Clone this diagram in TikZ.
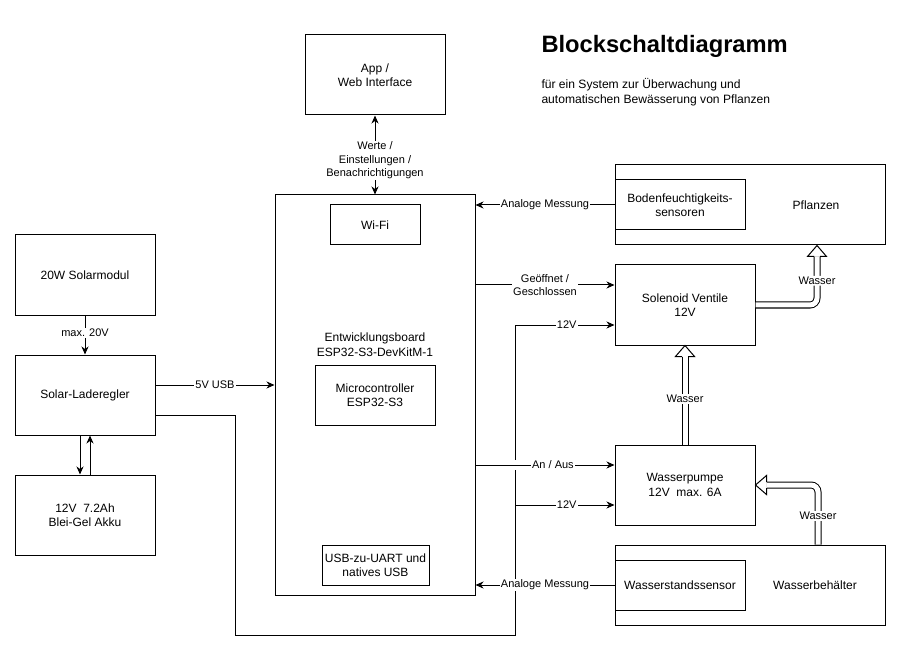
\documentclass[tikz,border=0pt]{standalone}
\usepackage{fontspec}
\setmainfont{Liberation Sans}
\usetikzlibrary{arrows.meta,calc}
\begin{document}
\begin{tikzpicture}[x=1pt,y=-1pt,line width=1pt,
  box/.style={draw,line width=1pt,inner sep=0pt,align=center,font=\fontsize{12}{14.5}\selectfont},
  txt/.style={inner sep=0pt,align=center,font=\fontsize{12}{14.5}\selectfont},
  conn/.style={draw,line width=1pt,-{Stealth[length=8pt,width=7pt,inset=2.5pt]}},
  biconn/.style={draw,line width=1pt,{Stealth[length=8pt,width=7pt,inset=2.5pt]}-{Stealth[length=8pt,width=7pt,inset=2.5pt]}},
  plain/.style={draw,line width=1pt},
  lbl/.style={fill=white,inner sep=1pt,align=center,font=\fontsize{11}{13.5}\selectfont},
  hollow/.style={line width=1pt,double=white,double distance=5pt,rounded corners=7pt},
  hhead/.style={line width=1pt,fill=white,line join=miter}]
\path[fill=white] (0,0) rectangle (902,652);
\useasboundingbox (0,0) rectangle (902,652);

% title
\node[anchor=west,inner sep=0pt,font=\bfseries\fontsize{23.7}{28}\selectfont] (title) at (541,46) {Blockschaltdiagramm};
\node[anchor=west,inner sep=0pt,align=left,font=\fontsize{12.1}{15}\selectfont] (sub) at (541,92.5) {für ein System zur Überwachung und\\automatischen Bewässerung von Pflanzen};

% nodes
\node[box,minimum width=140pt,minimum height=80pt] (app) at (375,75) {App /\\Web Interface};
\node[box,minimum width=200pt,minimum height=400pt] (esp) at (375,395) {};
\node[txt] (esplbl) at (375,344.5) {Entwicklungsboard\\ESP32-S3-DevKitM-1};
\node[box,minimum width=90pt,minimum height=40pt] (wifi) at (375,225) {Wi-Fi};
\node[box,minimum width=120pt,minimum height=60pt] (mcu) at (375,395) {Microcontroller\\ESP32-S3};
\node[box,minimum width=107pt,minimum height=40pt] (usb) at (375.5,565) {USB-zu-UART und\\natives USB};

\node[box,minimum width=140pt,minimum height=80pt] (solar) at (85,275) {20W Solarmodul};
\node[box,minimum width=140pt,minimum height=80pt] (lade) at (85,395) {Solar-Laderegler};
\node[box,minimum width=140pt,minimum height=80pt] (akku) at (85,515) {12V\ \ 7.2Ah\\Blei-Gel Akku};

\node[box,minimum width=270pt,minimum height=80pt] (pfl) at (750,205) {};
\node[txt] (pfllbl) at (816,205) {Pflanzen};
\node[box,minimum width=130pt,minimum height=50pt] (boden) at (680,205) {Bodenfeuchtigkeits-\\sensoren};
\node[box,minimum width=140pt,minimum height=80pt] (sol) at (685,305) {Solenoid Ventile\\12V};
\node[box,minimum width=140pt,minimum height=80pt] (pump) at (685,485) {Wasserpumpe\\12V\ \ max. 6A};
\node[box,minimum width=270pt,minimum height=80pt] (beh) at (750,585) {};
\node[txt] (behlbl) at (815,585) {Wasserbehälter};
\node[box,minimum width=130pt,minimum height=50pt] (wst) at (680,585) {Wasserstandssensor};

% connectors
\draw[biconn] (esp.north) -- node[lbl,pos=0.43] {Werte /\\Einstellungen /\\Benachrichtigungen} (app.south);
\draw[conn] (solar.south) -- node[lbl,pos=0.45] {max. 20V} (lade.north);
\draw[conn] ($(lade.south)+(-5,0)$) -- ($(akku.north)+(-5,0)$);
\draw[conn] ($(akku.north)+(5,0)$) -- ($(lade.south)+(5,0)$);
\draw[conn] ($(lade.east)+(0,-10)$) -- node[lbl] {5V USB} ($(esp.west|-lade.east)+(0,-10)$);

\coordinate (busB) at (515,635);
\coordinate (branch) at (515,505);
\coordinate (jump) at (515,465);
\draw[conn] ($(lade.east)+(0,20)$) -- ++(80,0) |- (busB) |- node[lbl,pos=0.76] {12V} ($(sol.west)+(0,20)$);
\draw[conn] (branch) -- node[lbl,pos=0.52] {12V} ($(pump.west)+(0,20)$);
\fill[white] ($(jump)+(-1.5,-5)$) rectangle ($(jump)+(1.5,5)$);
\draw[conn] ($(esp.east|-pump.west)+(0,-20)$) -- node[lbl,pos=0.557] {An / Aus} ($(pump.west)+(0,-20)$);

\draw[conn] (boden.west) -- node[lbl] {Analoge Messung} (esp.east|-boden.west);
\draw[conn] ($(esp.east|-sol.west)+(0,-20)$) -- node[lbl] {Geöffnet /\\Geschlossen} ($(sol.west)+(0,-20)$);
\draw[conn] (wst.west) -- node[lbl] {Analoge Messung} (esp.east|-wst.west);

% water flows (hollow arrows)
\draw[hollow] (pump.north) -- ($(sol.south)+(0,11)$);
\draw[hhead] ($(sol.south)+(-3,11)$) -- ($(sol.south)+(-9.5,11)$) -- (sol.south) -- ($(sol.south)+(9.5,11)$) -- ($(sol.south)+(3,11)$);
\node[lbl] (w1) at ($(pump.north)!0.46!(sol.south)$) {Wasser};

\draw[hollow] ($(beh.north)+(68,0)$) |- node[lbl,pos=0.24] (w2) {Wasser} ($(pump.east)+(11,0)$);
\draw[hhead] ($(pump.east)+(11,-3)$) -- ($(pump.east)+(11,-9.5)$) -- (pump.east) -- ($(pump.east)+(11,9.5)$) -- ($(pump.east)+(11,3)$);

\draw[hollow] (sol.east) -| node[lbl,pos=0.75] (w3) {Wasser} ($(pfl.south)+(67,11)$);
\draw[hhead] ($(pfl.south)+(64,11)$) -- ($(pfl.south)+(57.5,11)$) -- ($(pfl.south)+(67,0)$) -- ($(pfl.south)+(76.5,11)$) -- ($(pfl.south)+(70,11)$);
\end{tikzpicture}
\end{document}
